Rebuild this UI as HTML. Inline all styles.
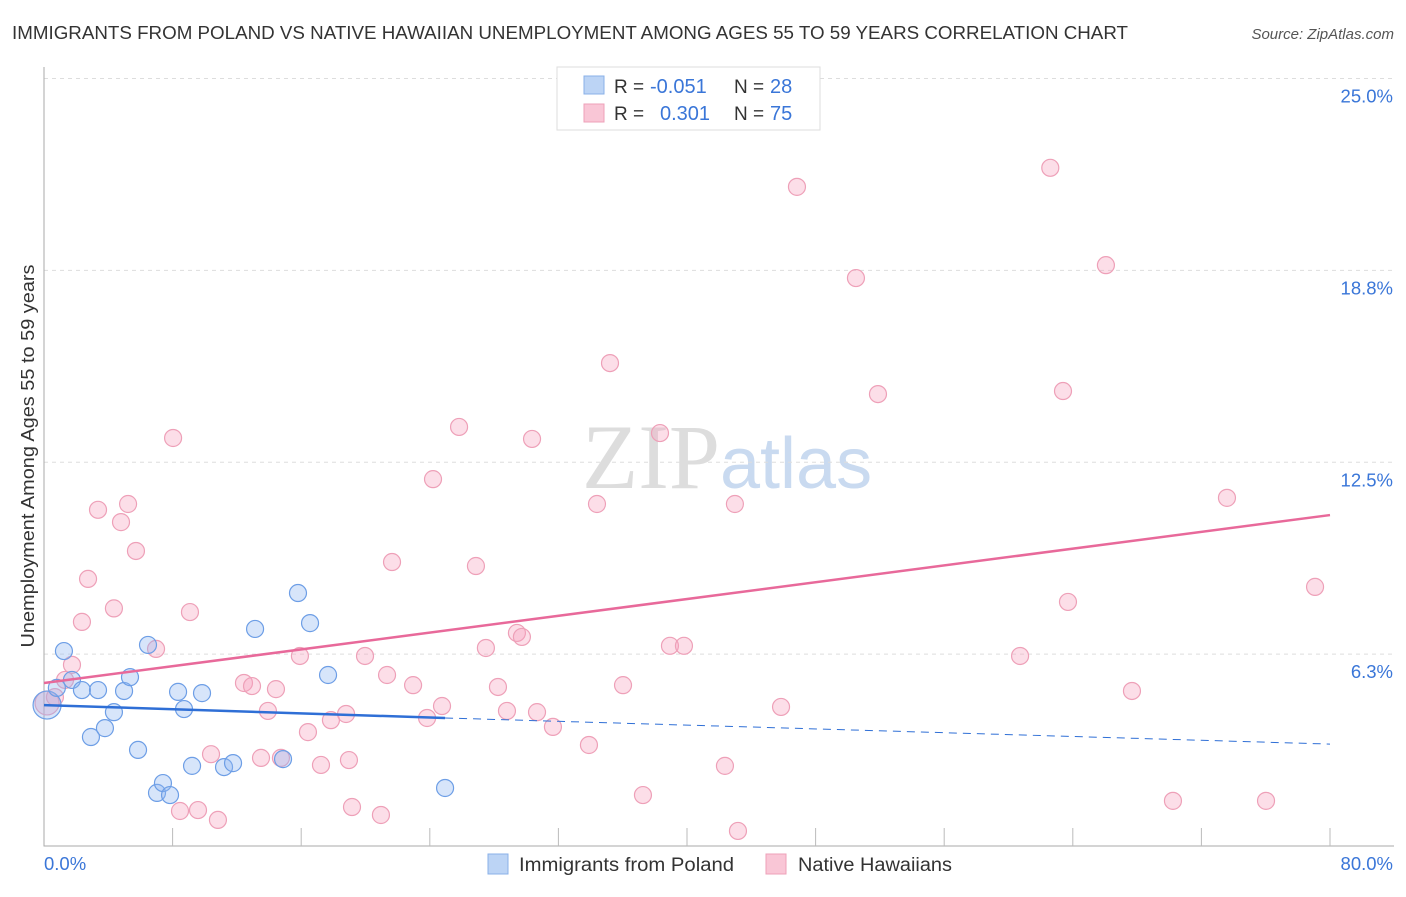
<!DOCTYPE html>
<html><head><meta charset="utf-8"><style>
body{margin:0;background:#fff;font-family:"Liberation Sans",sans-serif;}
</style></head><body>
<svg id="c" width="1406" height="892" xmlns="http://www.w3.org/2000/svg">
<text x="12" y="39" font-size="18" fill="#333" textLength="1116" lengthAdjust="spacingAndGlyphs">IMMIGRANTS FROM POLAND VS NATIVE HAWAIIAN UNEMPLOYMENT AMONG AGES 55 TO 59 YEARS CORRELATION CHART</text>
<text x="1394" y="39" font-size="15" fill="#555" font-style="italic" text-anchor="end">Source: ZipAtlas.com</text>
<text x="720" y="488" font-size="92" fill="#ddd" text-anchor="end" font-family="Liberation Serif,serif">ZIP</text>
<text x="720" y="488" font-size="72" fill="#c9daf0">atlas</text>
<text transform="translate(34,456) rotate(-90)" font-size="18" fill="#333" text-anchor="middle" textLength="383" lengthAdjust="spacingAndGlyphs">Unemployment Among Ages 55 to 59 years</text>
<g id="grid"></g><g id="pts"></g><g id="lines"></g>
<g>
<rect x="557" y="67" width="263" height="63" fill="#fff" stroke="#ddd"/>
<rect x="584" y="76" width="20" height="18" fill="#bcd4f5" stroke="#8ab0e8"/>
<rect x="584" y="104" width="20" height="18" fill="#f9c6d6" stroke="#eea0b8"/>
<text x="614" y="93" font-size="19" fill="#333">R =</text>
<text x="650" y="93" font-size="20" fill="#3a76d8">-0.051</text>
<text x="734" y="93" font-size="19" fill="#333">N =</text>
<text x="770" y="93" font-size="20" fill="#3a76d8">28</text>
<text x="614" y="120" font-size="19" fill="#333">R =</text>
<text x="660" y="120" font-size="20" fill="#3a76d8">0.301</text>
<text x="734" y="120" font-size="19" fill="#333">N =</text>
<text x="770" y="120" font-size="20" fill="#3a76d8">75</text>
</g>
<g>
<rect x="488" y="854" width="20" height="20" fill="#bcd4f5" stroke="#8ab0e8"/>
<text x="519" y="871" font-size="19" fill="#333" textLength="215" lengthAdjust="spacingAndGlyphs">Immigrants from Poland</text>
<rect x="766" y="854" width="20" height="20" fill="#f9c6d6" stroke="#eea0b8"/>
<text x="798" y="871" font-size="19" fill="#333" textLength="154" lengthAdjust="spacingAndGlyphs">Native Hawaiians</text>
</g>
</svg>
<script>
const yTicks=[6.25,12.5,18.75,25];
const yTickLabels=["6.3%","12.5%","18.8%","25.0%"];
const xTickLabels=["0.0%","80.0%"];
const blueX=[0.19,0.8,1.24,1.74,2.36,3.36,2.92,3.79,4.35,4.98,5.35,5.85,6.47,7.03,7.4,7.84,8.34,8.71,9.21,9.83,11.2,11.76,13.13,14.87,15.8,16.55,17.67,24.95];
const blueY=[4.59,5.15,6.35,5.41,5.08,5.08,3.55,3.84,4.36,5.05,5.5,3.13,6.55,1.73,2.05,1.66,5.02,4.46,2.61,4.98,2.57,2.7,7.07,2.83,8.24,7.26,5.57,1.89];
const pinkX=[0.19,0.68,1.31,1.74,2.36,2.74,3.36,4.35,4.79,5.23,5.72,6.97,8.03,8.46,9.08,9.58,10.39,10.82,12.44,12.94,13.5,13.93,14.43,14.74,16.42,15.92,17.23,17.85,18.97,19.16,19.97,18.79,20.96,21.34,21.65,22.96,23.83,24.2,24.76,25.82,26.87,27.49,28.24,28.8,29.42,29.73,30.36,30.67,31.66,33.9,34.4,35.21,36.02,37.26,38.32,38.94,39.81,42.36,42.98,43.17,45.85,46.84,50.51,51.88,60.72,62.6,63.39,63.7,66.06,67.68,70.23,73.59,76.02,79.07];
const pinkY=[4.66,4.85,5.41,5.9,7.3,8.7,10.95,7.74,10.55,11.14,9.61,6.42,13.29,1.14,7.62,1.17,2.99,0.85,5.31,5.21,2.87,4.4,5.11,2.87,3.71,6.19,2.64,4.1,2.8,1.27,6.19,4.3,1.01,5.57,9.25,5.24,4.17,11.95,4.56,13.65,9.12,6.45,5.18,4.4,6.94,6.81,13.26,4.36,3.88,3.29,11.14,15.73,5.24,1.66,13.45,6.52,6.52,2.61,11.14,0.49,4.53,21.47,18.5,14.72,6.19,22.09,14.82,7.95,18.92,5.05,1.47,11.34,1.47,8.44];
const blueTrend=[4.59,4.17,3.32];const blueTrendX=[0,24.95,80];
const pinkTrend=[5.31,10.78];const pinkTrendX=[0,80];
const X=v=>44+v*1286/80, Y=v=>846-v*30.7;
const NS="http://www.w3.org/2000/svg";
function mk(p,t,a){const e=document.createElementNS(NS,t);for(const k in a)e.setAttribute(k,a[k]);document.getElementById(p).appendChild(e);return e;}
yTicks.forEach((v,i)=>{
 const g=mk('grid','line',{x1:44,x2:1394,y1:Y(v),y2:Y(v),stroke:'#ddd','stroke-dasharray':'4,4'});
 
 
 const t=mk('grid','text',{x:1393,y:Y(v)+24,'font-size':18.5,fill:'#3a76d8','text-anchor':'end'});
 t.textContent=yTickLabels[i];
 
 
});
const ax=mk('grid','path',{d:'M44,67V846H1394',stroke:'#aaa',fill:'none'});


for(let i=1;i<=10;i++){const x=44+i*128.6;const t=mk('grid','line',{x1:x,x2:x,y1:828,y2:846,stroke:'#bbb'});
 
 }
[[44,'start'],[1393,'end']].forEach((p,i)=>{const t=mk('grid','text',{x:p[0],y:870,'font-size':18.5,fill:'#3a76d8','text-anchor':p[1]});t.textContent=xTickLabels[i];
 
 });
pinkX.forEach((v,i)=>{const c=mk('pts','circle',{cx:X(v),cy:Y(pinkY[i]),r:i==0?12:8.5,fill:'rgba(245,160,190,0.35)',stroke:'#eea0b8','stroke-width':1.2});
 
 });
blueX.forEach((v,i)=>{const c=mk('pts','circle',{cx:X(v),cy:Y(blueY[i]),r:i==0?14:8.5,fill:'rgba(140,180,240,0.35)',stroke:'#6d9ee6','stroke-width':1.2});
 
 });
let l=mk('lines','line',{x1:X(pinkTrendX[0]),y1:Y(pinkTrend[0]),x2:X(pinkTrendX[1]),y2:Y(pinkTrend[1]),stroke:'#e8699a','stroke-width':2.5});


l=mk('lines','line',{x1:X(blueTrendX[0]),y1:Y(blueTrend[0]),x2:X(blueTrendX[1]),y2:Y(blueTrend[1]),stroke:'#2f6fd6','stroke-width':2.5});


l=mk('lines','line',{x1:X(blueTrendX[1]),y1:Y(blueTrend[1]),x2:X(blueTrendX[2]),y2:Y(blueTrend[2]),stroke:'#2f6fd6','stroke-width':1,'stroke-dasharray':'8,6'});


</script>
</body></html>
